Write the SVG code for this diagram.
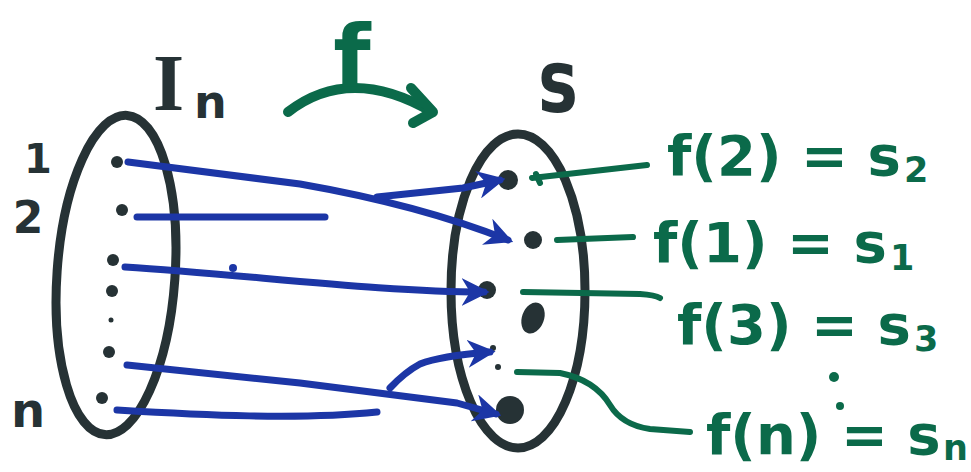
<svg xmlns="http://www.w3.org/2000/svg" width="971" height="472" viewBox="0 0 971 472">
<style>
.ink{fill:#263235}
.ring{fill:none;stroke:#263235;stroke-width:9;stroke-linecap:round}
.blue{fill:none;stroke:#1c36a6;stroke-width:7;stroke-linecap:round;stroke-linejoin:round}
.grn{fill:none;stroke:#0b6a4a;stroke-width:6;stroke-linecap:round;stroke-linejoin:round}
.gt{fill:#0b6a4a;font-family:"DejaVu Sans",sans-serif;font-weight:bold}
.dt{fill:#263235;font-family:"DejaVu Sans",sans-serif;font-weight:bold}
</style>
<defs>
<marker id="ah" viewBox="0 0 10 10" refX="8" refY="5" markerWidth="4" markerHeight="4" orient="auto" markerUnits="strokeWidth">
<path d="M0,0 L10,5 L0,10 L3,5 Z" fill="#1c36a6"/>
</marker>
</defs>
<rect width="971" height="472" fill="#ffffff"/>

<g id="set-In">
<ellipse class="ring" cx="116" cy="275" rx="59" ry="160" transform="rotate(4 116 275)"/>
<circle class="ink" cx="117" cy="162" r="6"/>
<circle class="ink" cx="122" cy="210" r="6"/>
<circle class="ink" cx="113" cy="260" r="6"/>
<circle class="ink" cx="112" cy="291" r="6"/>
<circle class="ink" cx="111" cy="320" r="2.5"/>
<circle class="ink" cx="109" cy="352" r="6"/>
<circle class="ink" cx="102" cy="398" r="6"/>
<text class="dt" x="153" y="110" font-size="80" style="font-family:'Liberation Serif',serif">I</text>
<text class="dt" x="194" y="118" font-size="46">n</text>
<text class="dt" x="38" y="173" font-size="40" text-anchor="middle">1</text>
<text class="dt" x="28" y="233" font-size="44" text-anchor="middle">2</text>
<text class="dt" x="28" y="427" font-size="48" text-anchor="middle">n</text>
</g>

<g id="set-S">
<ellipse class="ring" cx="518" cy="291" rx="67" ry="157"/>
<circle class="ink" cx="508" cy="180" r="10"/>
<circle class="ink" cx="533" cy="240" r="9"/>
<circle class="ink" cx="487" cy="290" r="9"/>
<ellipse class="ink" cx="533" cy="318" rx="11" ry="16" transform="rotate(20 533 318)"/>
<circle class="ink" cx="493" cy="348" r="3"/>
<circle class="ink" cx="498" cy="367" r="3"/>
<circle class="ink" cx="510" cy="410" r="14"/>
<text class="dt" x="538" y="112" font-size="88" textLength="40" lengthAdjust="spacingAndGlyphs">s</text>
</g>

<g id="connectors">
<path class="blue" d="M128,162 L300,184 Q420,205 508,240" marker-end="url(#ah)"/>
<path class="blue" d="M377,197 L463,188 L500,180" marker-end="url(#ah)"/>
<path class="blue" d="M137,217 L325,217"/>
<path class="blue" d="M125,267 C250,275 380,292 484,292" marker-end="url(#ah)"/>
<circle cx="233" cy="268" r="4" fill="#1c36a6"/>
<path class="blue" d="M127,365 L300,383 L457,403 L496,414" marker-end="url(#ah)"/>
<path class="blue" d="M390,388 Q405,372 420,364 Q440,356 490,352" marker-end="url(#ah)"/>
<path class="blue" d="M117,410 C200,415 300,420 377,412"/>
<path class="grn" d="M532,178 L647,165 M540,183 L536,174"/>
<path class="grn" d="M557,240 L633,237"/>
<path class="grn" d="M523,292 L640,294 Q655,295 660,298"/>
<path class="grn" d="M517,372 L560,373 Q595,380 610,405 Q622,425 650,429 L690,432"/>
<path d="M288,112 Q350,64 432,112" fill="none" stroke="#0b6a4a" stroke-width="10" stroke-linecap="round"/>
<path d="M411,88 L433,112 L413,123" fill="none" stroke="#0b6a4a" stroke-width="10" stroke-linecap="round" stroke-linejoin="round"/>
</g>

<g id="label-f">
<text class="gt" x="352" y="86" font-size="86" text-anchor="middle">f</text>
</g>
<g id="label-f2">
<text class="gt" x="667" y="175" font-size="56">f(2) = s</text>
<text class="gt" x="904" y="182" font-size="35">2</text>
</g>
<g id="label-f1">
<text class="gt" x="653" y="262" font-size="56">f(1) = s</text>
<text class="gt" x="890" y="270" font-size="35">1</text>
</g>
<g id="label-f3">
<text class="gt" x="677" y="344" font-size="56">f(3) = s</text>
<text class="gt" x="914" y="351" font-size="35">3</text>
</g>
<g id="label-fn">
<circle cx="834" cy="377" r="5" fill="#0b6a4a"/>
<circle cx="840" cy="406" r="4" fill="#0b6a4a"/>
<text class="gt" x="706" y="454" font-size="56">f(n) = s</text>
<text class="gt" x="943" y="460" font-size="35">n</text>
</g>
</svg>
